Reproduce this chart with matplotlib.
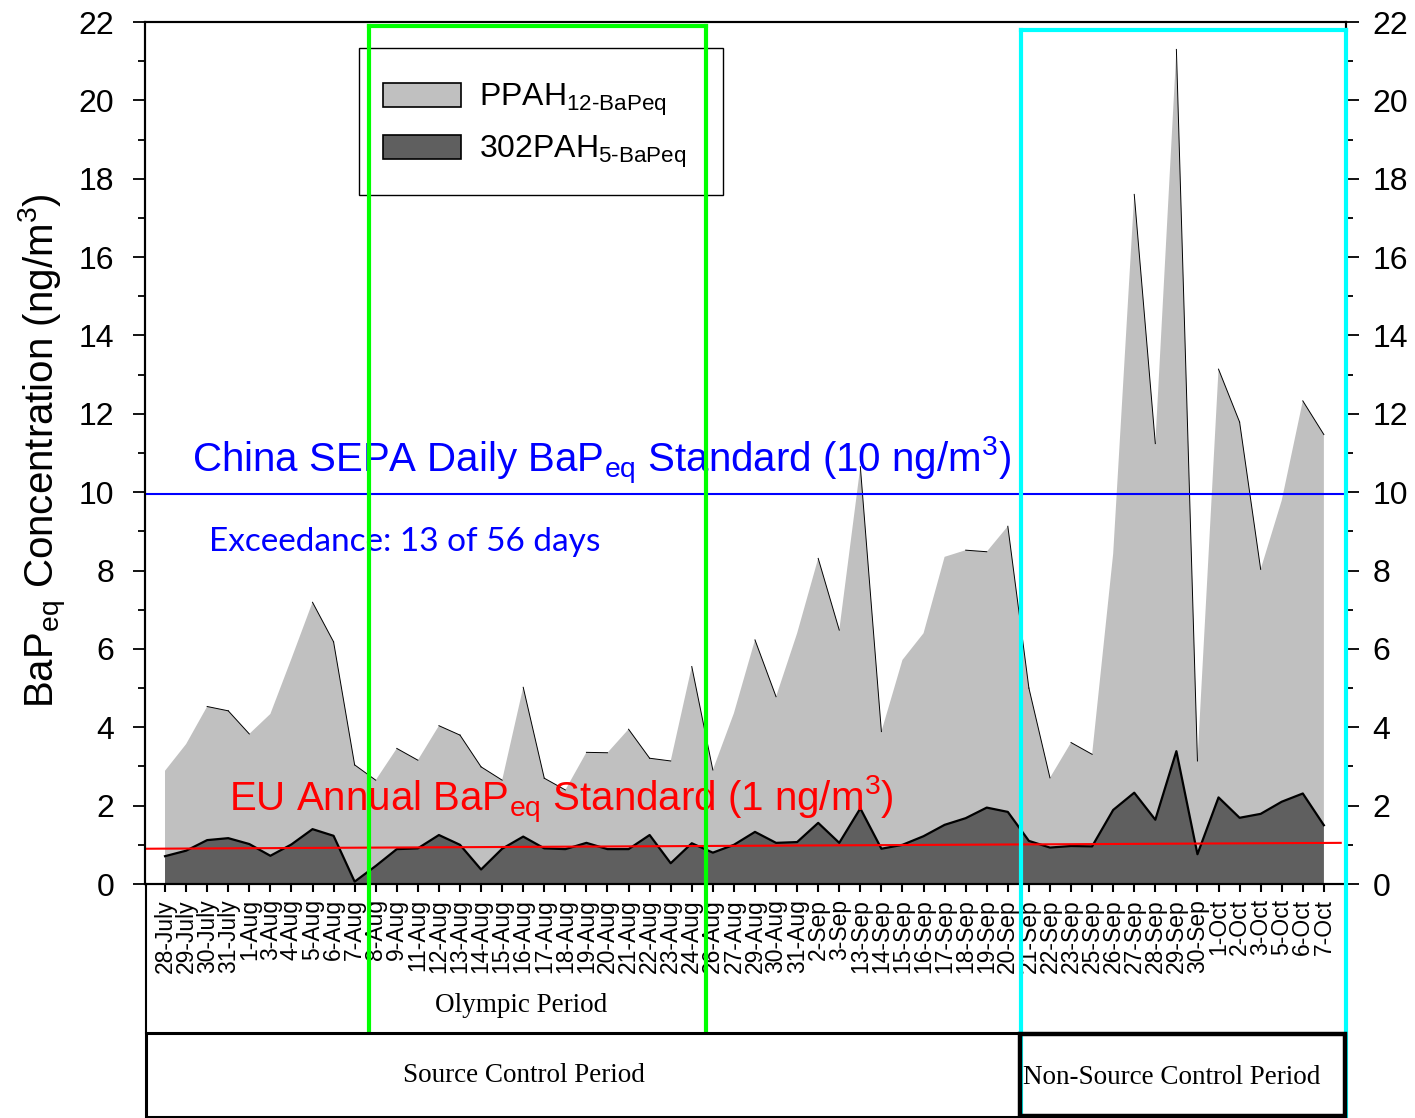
import matplotlib
matplotlib.use("Agg")
import matplotlib.pyplot as plt
from matplotlib.ticker import MultipleLocator
from matplotlib.patches import Rectangle, Patch
from matplotlib.lines import Line2D

plt.rcParams['font.family'] = ['Liberation Sans', 'DejaVu Sans']
plt.rcParams['mathtext.fontset'] = 'custom'
plt.rcParams['mathtext.rm'] = 'Liberation Sans'
plt.rcParams['mathtext.it'] = 'Liberation Sans:italic'
plt.rcParams['mathtext.bf'] = 'Liberation Sans:bold'

dates = ["28-July", "29-July", "30-July", "31-July", "1-Aug", "3-Aug", "4-Aug", "5-Aug",
         "6-Aug", "7-Aug", "8-Aug", "9-Aug", "11-Aug", "12-Aug", "13-Aug", "14-Aug",
         "15-Aug", "16-Aug", "17-Aug", "18-Aug", "19-Aug", "20-Aug", "21-Aug", "22-Aug",
         "23-Aug", "24-Aug", "26-Aug", "27-Aug", "29-Aug", "30-Aug", "31-Aug", "2-Sep",
         "3-Sep", "13-Sep", "14-Sep", "15-Sep", "16-Sep", "17-Sep", "18-Sep", "19-Sep",
         "20-Sep", "21-Sep", "22-Sep", "23-Sep", "25-Sep", "26-Sep", "27-Sep", "28-Sep",
         "29-Sep", "30-Sep", "1-Oct", "2-Oct", "3-Oct", "5-Oct", "6-Oct", "7-Oct"]

ppah12 = [2.89, 3.57, 4.53, 4.42, 3.83, 4.34, 5.75, 7.19, 6.18, 3.04,
          2.65, 3.46, 3.16, 4.04, 3.80, 2.99, 2.65, 5.02, 2.70, 2.40,
          3.36, 3.35, 3.95, 3.21, 3.14, 5.55, 2.91, 4.36, 6.23, 4.78,
          6.40, 8.31, 6.48, 10.65, 3.89, 5.72, 6.40, 8.35, 8.52, 8.48,
          9.13, 5.00, 2.71, 3.61, 3.31, 8.43, 17.60, 11.24, 21.30, 3.14,
          13.14, 11.79, 8.03, 9.79, 12.33, 11.47]

pah302 = [0.71, 0.85, 1.12, 1.17, 1.02, 0.72, 1.01, 1.40, 1.23, 0.06,
          0.46, 0.89, 0.91, 1.25, 1.00, 0.37, 0.90, 1.21, 0.91, 0.89,
          1.05, 0.89, 0.89, 1.25, 0.53, 1.04, 0.80, 1.00, 1.33, 1.05,
          1.07, 1.56, 1.05, 1.93, 0.90, 1.00, 1.22, 1.51, 1.68, 1.95,
          1.84, 1.10, 0.93, 0.97, 0.96, 1.89, 2.33, 1.64, 3.39, 0.76,
          2.21, 1.69, 1.79, 2.10, 2.31, 1.50]

china_std = 9.95
eu_std_start, eu_std_end = 0.90, 1.05

W, H = 1415, 1118
fig = plt.figure(figsize=(W / 100, H / 100), dpi=100)
ax = fig.add_axes([145 / W, 1 - 884 / H, (1346 - 145) / W, (884 - 22) / H])

x = list(range(len(dates)))
ax.fill_between(x, ppah12, 0, facecolor='#C0C0C0', edgecolor='none', zorder=1)
# thin outline drawn on the falling segments of the light area
for i in range(len(x) - 1):
    if ppah12[i + 1] < ppah12[i]:
        ax.plot(x[i:i + 2], ppah12[i:i + 2], color='black', lw=0.7, zorder=1.5)
ax.fill_between(x, pah302, 0, facecolor='#5F5F5F', edgecolor='none', zorder=2)
ax.plot(x, pah302, color='black', lw=1.6, zorder=3)

ax.set_xlim(-0.95, 56.05)
ax.set_ylim(0, 22)
ax.set_xticks(x)
ax.set_xticklabels(dates, rotation=90, fontsize=16.5)
ax.yaxis.set_major_locator(MultipleLocator(2))
ax.yaxis.set_minor_locator(MultipleLocator(1))
ax.tick_params(axis='y', which='both', left=True, right=False, labelleft=True,
               labelright=False, labelsize=23, direction='out', width=1.3)
ax.tick_params(axis='y', which='major', length=8.5, pad=13.5)
ax.tick_params(axis='y', which='minor', length=5)
ax.tick_params(axis='x', which='major', length=6, width=1.5, direction='out', pad=5)
for s in ax.spines.values():
    s.set_linewidth(1.5)

axr = ax.twinx()
axr.set_ylim(0, 22)
axr.yaxis.set_major_locator(MultipleLocator(2))
axr.yaxis.set_minor_locator(MultipleLocator(1))
axr.tick_params(axis='y', which='both', labelsize=23, direction='out', width=1.3)
axr.tick_params(axis='y', which='major', length=9.5, pad=9.5)
axr.tick_params(axis='y', which='minor', length=5)
for s in axr.spines.values():
    s.set_linewidth(1.5)

ax.set_ylabel(r'BaP$_{\mathrm{eq}}$ Concentration (ng/m$^{3}$)', fontsize=29)
ax.yaxis.set_label_coords(-0.063, 0.503)

# standards
ax.axhline(china_std, color='#0000FF', lw=1.5, zorder=4)
ax.plot([-0.95, 55.8], [eu_std_start, eu_std_end], color='#FF0000', lw=1.5, zorder=4)

ax.text(1.28, 10.5, r'China SEPA Daily BaP$_{\mathrm{eq}}$ Standard (10 ng/m$^{3}$)',
        color='#0000FF', fontsize=29, ha='left', va='baseline', zorder=7)
ax.text(2.09, 8.5, 'Exceedance: 13 of 56 days', color='#0000FF', fontsize=24,
        family=['Lato', 'DejaVu Sans'], ha='left', va='baseline', zorder=7)
ax.text(3.04, 1.86, r'EU Annual BaP$_{\mathrm{eq}}$ Standard (1 ng/m$^{3}$)',
        color='#FF0000', fontsize=29, ha='left', va='baseline', zorder=7)

def fx(px):
    return px / W

def fy(py):
    return 1 - py / H

# legend (frame drawn separately)
handles = [Patch(facecolor='#C0C0C0', edgecolor='black', lw=1.2),
           Patch(facecolor='#5F5F5F', edgecolor='black', lw=1.2)]
labels = [r'PPAH$_{\text{12-BaPeq}}$', r'302PAH$_{\text{5-BaPeq}}$']
leg = fig.legend(handles, labels, loc='upper left', bbox_to_anchor=(fx(383), fy(82)),
                 fontsize=23, frameon=False, handlelength=2.45, handleheight=0.78,
                 borderpad=0, labelspacing=0.5, handletextpad=0.55, borderaxespad=0)
leg.set_zorder(5)
fig.add_artist(Rectangle((fx(359), fy(195)), fx(723) - fx(359), fy(48) - fy(195),
                         facecolor='white', edgecolor='black', lw=1.0, zorder=4.5))

green = '#00FF00'
cyan = '#00FFFF'
for xs, ys in [([369, 369], [26, 1032]), ([706, 706], [26, 1032]), ([369, 706], [26, 26])]:
    fig.add_artist(Line2D([fx(v) for v in xs], [fy(v) for v in ys], color=green, lw=3, zorder=10))
for xs, ys in [([1021, 1021], [30, 1118]), ([1346, 1346], [30, 1118]), ([1021, 1346], [30, 30])]:
    fig.add_artist(Line2D([fx(v) for v in xs], [fy(v) for v in ys], color=cyan, lw=3, zorder=10))

# left spine extension
fig.add_artist(Line2D([fx(146), fx(146)], [fy(884), fy(1033)], color='black', lw=1.5, zorder=9))

# bottom boxes
fig.add_artist(Rectangle((fx(146), fy(1117)), fx(1020) - fx(146), fy(1033) - fy(1117),
                         fill=False, edgecolor='black', lw=2.2, zorder=11))
fig.add_artist(Rectangle((fx(1020), fy(1116)), fx(1345) - fx(1020), fy(1034) - fy(1116),
                         fill=False, edgecolor='black', lw=3.2, zorder=11))

serif = ['Liberation Serif', 'DejaVu Serif']
fig.text(fx(521), fy(1005), 'Olympic Period', family=serif, fontsize=19.5, ha='center', va='center')
fig.text(fx(524), fy(1075), 'Source Control Period', family=serif, fontsize=19.5, ha='center', va='center')
fig.text(fx(1172), fy(1077), 'Non-Source Control Period', family=serif, fontsize=19.5,
         ha='center', va='center')

fig.savefig('out.png', dpi=100)
